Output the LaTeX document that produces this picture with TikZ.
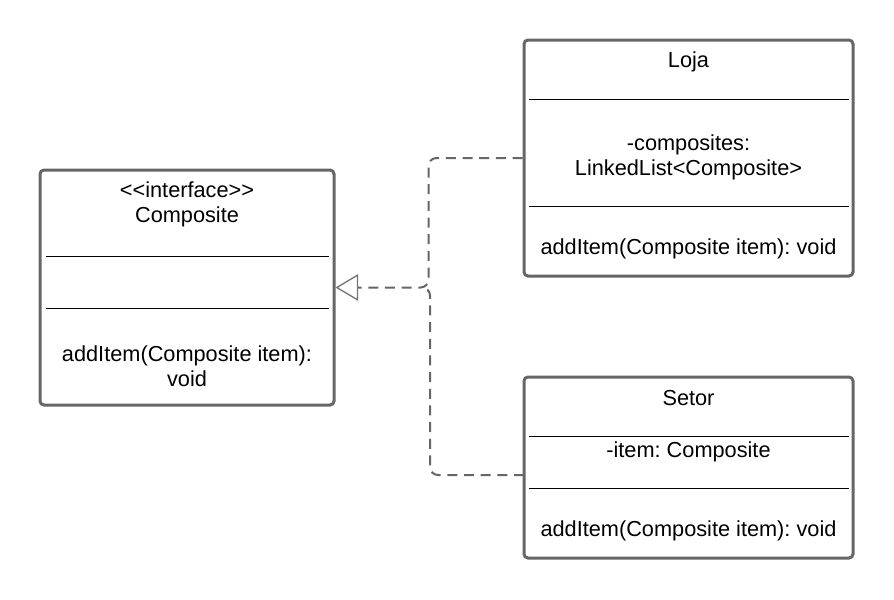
\documentclass[tikz,border=0pt]{standalone}
\usepackage{fontspec}
\setmainfont{Liberation Sans}
\frenchspacing
\usetikzlibrary{arrows.meta,positioning}
\definecolor{umlgray}{HTML}{666666}
\tikzstyle{classbox} = [
    draw=umlgray,
    line width=2.25pt,
    rounded corners=3pt,
    inner sep=0pt
]
\tikzstyle{divider} = [
    line width=0.75pt,
    draw=black
]
\tikzstyle{realize} = [
    draw=umlgray,
    line width=1.5pt,
    dash pattern=on 7.5pt off 5pt,
    rounded corners=6pt
]
\tikzstyle{txt} = [
    font=\fontsize{16.3pt}{18.75pt}\selectfont,
    align=center,
    inner sep=0pt
]

\begin{document}
\begin{tikzpicture}[x=0.75pt,y=-0.75pt]
\useasboundingbox (0,0) rectangle (894,600);

% Class boxes
\node[classbox, minimum width=220.5pt, minimum height=176.25pt] (composite) at (187,287.5) {};
\node[classbox, minimum width=246.75pt, minimum height=177pt] (loja) at (688.5,158) {};
\node[classbox, minimum width=246.75pt, minimum height=135.75pt] (setor) at (688.5,467.5) {};

% Compartment lines
\draw[divider] (46,256) -- (329,256);
\draw[divider] (46,308) -- (329,308);
\draw[divider] (529,99) -- (849,99);
\draw[divider] (529,206) -- (849,206);
\draw[divider] (529,436) -- (849,436);
\draw[divider] (529,488) -- (849,488);

% Texts
\node[txt] (compname) at (187,204) {{<}{<}interface{>}{>}\\Composite};
\node[txt] (compop) at (187,366) {addItem(Composite item):\\void};
\node[txt] (lojaname) at (688.5,62) {Loja};
\node[txt] (lojaattr) at (688.5,157) {-composites:\\LinkedList{<}Composite{>}};
\node[txt] (lojaop) at (688.5,249) {addItem(Composite item): void};
\node[txt] (setorname) at (688.5,398) {Setor};
\node[txt] (setorattr) at (688.5,452) {-item: Composite};
\node[txt] (setorop) at (688.5,531) {addItem(Composite item): void};

% Realization connectors
\coordinate (setorin) at (524,475);
\coordinate (joint) at (422,287.5);
\draw[realize, -{Triangle[open,length=17pt,width=20pt,line width=1pt,color=umlgray!90]}]
    (loja.west) -- ++(-94,0) |- (composite.east);
\draw[realize] (setorin) -- ++(-94,0) |- (joint);
\end{tikzpicture}
\end{document}
